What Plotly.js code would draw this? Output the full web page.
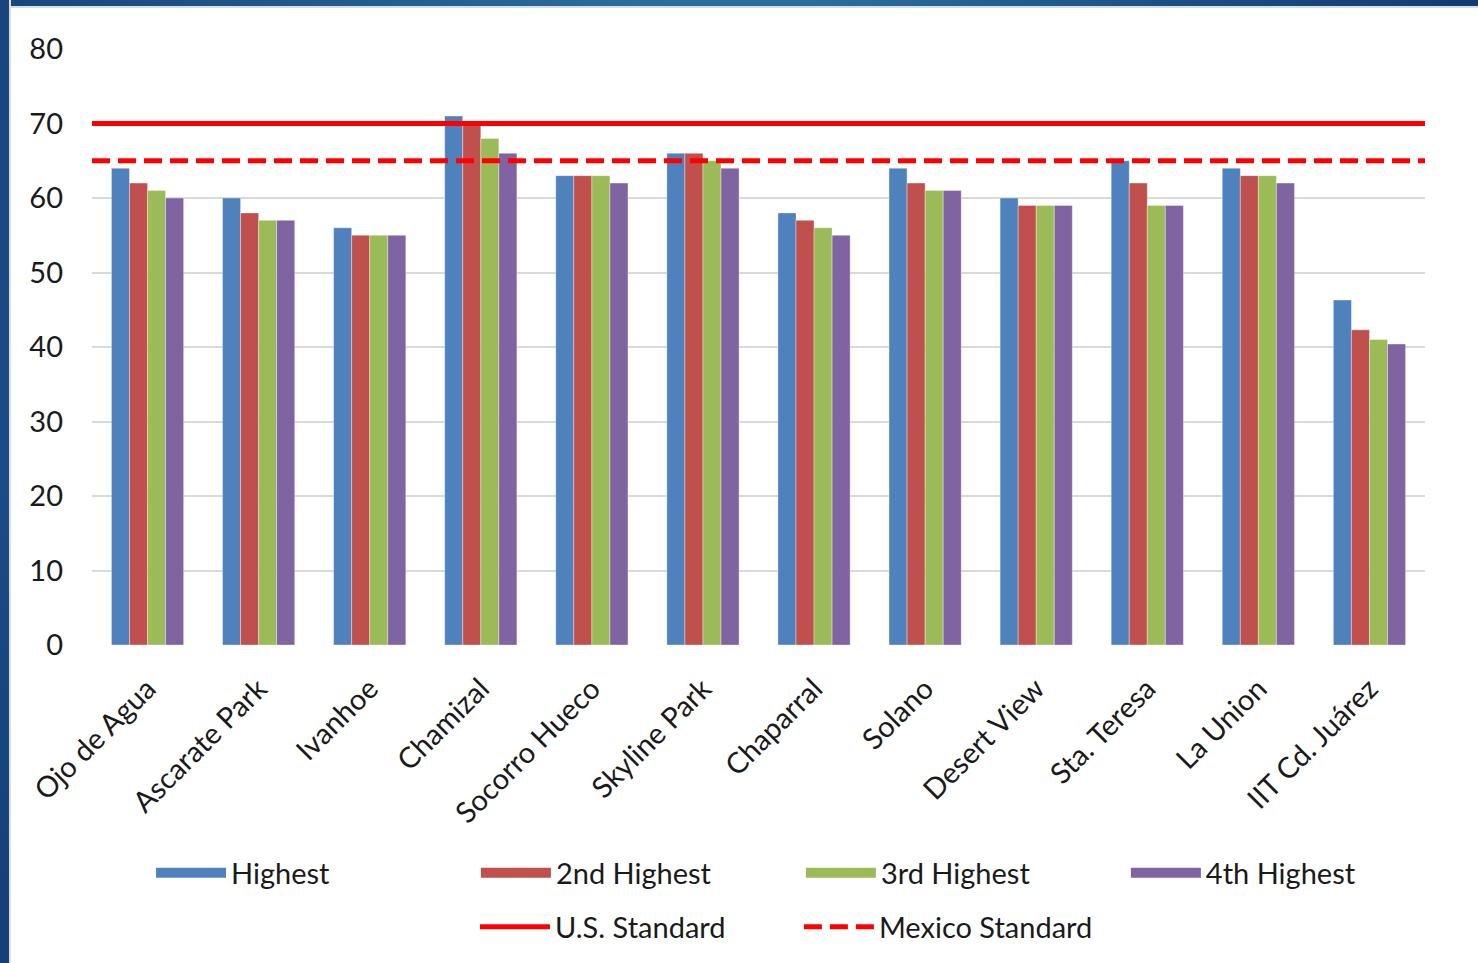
<!DOCTYPE html>
<html>
<head>
<meta charset="utf-8">
<script src="https://cdn.plot.ly/plotly-3.0.1.min.js"></script>
<style>
html,body{margin:0;padding:0;background:#fff;overflow:hidden;}
#chart{position:absolute;left:0;top:0;width:1478px;height:963px;}
#topbar{position:absolute;left:0;top:0;width:1478px;height:6px;z-index:5;
  background:linear-gradient(to right,#17467f 0%,#2a6f9b 45%,#2a6f9b 55%,#1a4f86 80%,#113b72 100%);
  border-bottom:2px solid #dcdcdc;}
#leftbar{position:absolute;left:0;top:0;width:9px;height:963px;z-index:6;
  background:linear-gradient(to bottom,#17467f,#1a4c85 50%,#143f78);
  border-right:2px solid #dcdcdc;}
</style>
</head>
<body>
<div id="topbar"></div>
<div id="leftbar"></div>
<div id="chart"></div>
<script>
const categories = ["Ojo de Agua","Ascarate Park","Ivanhoe","Chamizal","Socorro Hueco","Skyline Park","Chaparral","Solano","Desert View","Sta. Teresa","La Union","IIT Cd. Juárez"];
const highest = [64, 60, 56, 71, 63, 66, 58, 64, 60, 65, 64, 46.3];
const second  = [62, 58, 55, 70, 63, 66, 57, 62, 59, 62, 63, 42.3];
const third   = [61, 57, 55, 68, 63, 65, 56, 61, 59, 59, 63, 41.0];
const fourth  = [60, 57, 55, 66, 62, 64, 55, 61, 59, 59, 62, 40.4];
const usStandard = 70;
const mexicoStandard = 65;
const seriesNames = ["Highest","2nd Highest","3rd Highest","4th Highest"];
const standardNames = ["U.S. Standard","Mexico Standard"];
const yTicks = [0,10,20,30,40,50,60,70,80];

const colors = ["#4F81BD","#C0504D","#9BBB59","#8064A2"];
const series = [highest, second, third, fourth];
const font = {family: "Lato, 'Open Sans', sans-serif", size: 29, color: "#1a1a1a"};

const traces = [];
series.forEach((vals, i) => {
  traces.push({
    type: "bar", x: categories, y: vals, name: seriesNames[i],
    marker: {color: colors[i], line: {color: "rgba(255,255,255,0.35)", width: 1}},
    showlegend: false, legendgroup: "g" + i
  });
});
// legend entries for bars (wide swatches), one legend box each
series.forEach((vals, i) => {
  traces.push({
    type: "scatter", mode: "lines", x: [null], y: [null], name: seriesNames[i],
    line: {color: colors[i], width: 17}, legendgroup: "g" + i,
    legend: i === 0 ? "legend" : "legend" + (i + 1)
  });
});
traces.push({
  type: "scatter", mode: "lines", x: [0, 1], y: [usStandard, usStandard], xaxis: "x2",
  name: standardNames[0], line: {color: "#FF0000", width: 5}, legend: "legend5"
});
traces.push({
  type: "scatter", mode: "lines", x: [0, 1], y: [mexicoStandard, mexicoStandard], xaxis: "x2",
  name: standardNames[1], line: {color: "#FF0000", width: 5, dash: "18px,8px"}, legend: "legend6"
});

function legendBox(x, y) {
  return {
    orientation: "h", x: x, xanchor: "left", y: y, yanchor: "middle",
    itemwidth: 70, font: font, bgcolor: "rgba(0,0,0,0)", borderwidth: 0,
    itemclick: false, itemdoubleclick: false
  };
}

const layout = {
  width: 1478, height: 963,
  margin: {l: 92, r: 53, t: 49, b: 317},
  paper_bgcolor: "#ffffff", plot_bgcolor: "#ffffff",
  font: font,
  barmode: "group", bargap: 0.35, bargroupgap: 0,
  xaxis: {
    type: "category", tickangle: -45, ticks: "", showgrid: false, showline: false,
    tickfont: font, ticklabelstandoff: 20, fixedrange: true
  },
  xaxis2: {overlaying: "x", range: [0, 1], visible: false, fixedrange: true},
  yaxis: {
    range: [0, 80], tickvals: yTicks, ticks: "", showline: false,
    gridcolor: "#d9d9d9", gridwidth: 2, zeroline: false,
    tickfont: font, ticklabelstandoff: 28, fixedrange: true
  },
  legend:  legendBox(0.0443, -0.380),
  legend2: legendBox(0.2880, -0.380),
  legend3: legendBox(0.5318, -0.380),
  legend4: legendBox(0.7756, -0.380),
  legend5: legendBox(0.2873, -0.4707),
  legend6: legendBox(0.5303, -0.4707),
  showlegend: true
};

Plotly.newPlot("chart", traces, layout, {displayModeBar: false, staticPlot: true});
</script>
</body>
</html>
